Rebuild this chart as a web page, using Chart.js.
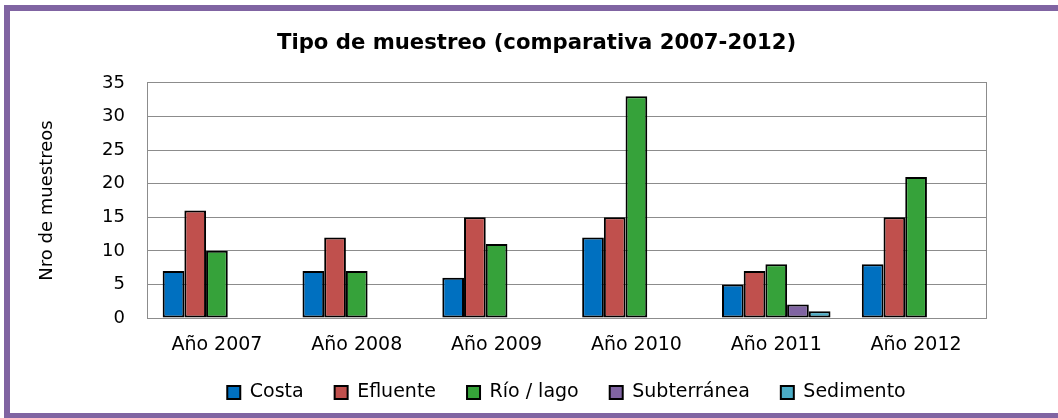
<!DOCTYPE html>
<html>
<head>
<meta charset="utf-8">
<script src="https://cdn.jsdelivr.net/npm/chart.js@4.4.0/dist/chart.umd.min.js"></script>
<style>
html,body{margin:0;padding:0;background:#fff;}
#wrap{position:relative;width:1058px;height:418px;overflow:hidden;background:#fff;}
#frame{position:absolute;left:4px;top:5px;width:1100px;height:402px;border-left:6px solid #8064A2;border-top:6px solid #8064A2;border-bottom:5px solid #8064A2;pointer-events:none;}
canvas{position:absolute;left:0;top:0;}
</style>
</head>
<body>
<div id="wrap"><canvas id="c" width="1058" height="418"></canvas><div id="frame"></div></div>
<script>
const categories = ['Año 2007', 'Año 2008', 'Año 2009', 'Año 2010', 'Año 2011', 'Año 2012'];
const costa = [7, 7, 6, 12, 5, 8];
const efluente = [16, 12, 15, 15, 7, 15];
const rioLago = [10, 7, 11, 33, 8, 21];
const subterranea = [0, 0, 0, 0, 2, 0];
const sedimento = [0, 0, 0, 0, 1, 0];
const seriesNames = ['Costa', 'Efluente', 'Río / lago', 'Subterránea', 'Sedimento'];
const yMin = 0, yMax = 35, yStep = 5;
const chartTitle = 'Tipo de muestreo (comparativa 2007-2012)';
const yTitle = 'Nro de muestreos';

const FONT = "'DejaVu Sans', sans-serif";
const colors = ['#0070C0', '#C0504D', '#36A23A', '#8064A2', '#4BACC6'];
const values = [costa, efluente, rioLago, subterranea, sedimento];

const datasets = values.map((v, i) => ({
  label: seriesNames[i],
  data: v,
  backgroundColor: colors[i],
  borderColor: '#000',
  borderWidth: 2,
  borderSkipped: false,
  categoryPercentage: 0.776,
  barPercentage: 1.0
}));

new Chart(document.getElementById('c'), {
  type: 'bar',
  data: { labels: categories, datasets },
  options: {
    responsive: false,
    animation: false,
    devicePixelRatio: 1,
    layout: { padding: { left: 18, right: 3, top: 0, bottom: 16 } },
    plugins: {
      title: {
        display: true,
        text: chartTitle,
        color: '#000',
        font: { family: FONT, size: 21.2, weight: 'bold' },
        padding: { top: 31, bottom: 26.5 }
      },
      legend: {
        position: 'bottom',
        fullSize: false,
        maxHeight: 50,
        labels: {
          color: '#000',
          font: { family: FONT, size: 19 },
          boxWidth: 13,
          boxHeight: 13,
          padding: 31
        }
      },
      tooltip: { enabled: false }
    },
    scales: {
      x: {
        afterFit: (s) => { s.height = 34; },
        grid: { display: false, drawTicks: false },
        border: { display: true, color: '#8c8c8c', width: 1 },
        ticks: { color: '#000', font: { family: FONT, size: 19, lineHeight: 0.8 }, padding: 19 }
      },
      y: {
        min: yMin, max: yMax,
        afterFit: (s) => { s.width = 129; },
        grid: { color: '#8c8c8c', drawTicks: false, lineWidth: 1 },
        border: { display: true, color: '#8c8c8c', width: 1 },
        ticks: { stepSize: yStep, color: '#000', font: { family: FONT, size: 18 }, padding: 22 },
        title: { display: true, text: yTitle, color: '#000', font: { family: FONT, size: 18 }, padding: { top: 19, bottom: 0 } }
      },
      y2: {
        type: 'linear',
        position: 'right',
        afterFit: (s) => { s.width = 69; },
        grid: { display: false, drawTicks: false },
        border: { display: true, color: '#8c8c8c', width: 1 },
        ticks: { display: false }
      }
    }
  }
});
</script>
</body>
</html>
